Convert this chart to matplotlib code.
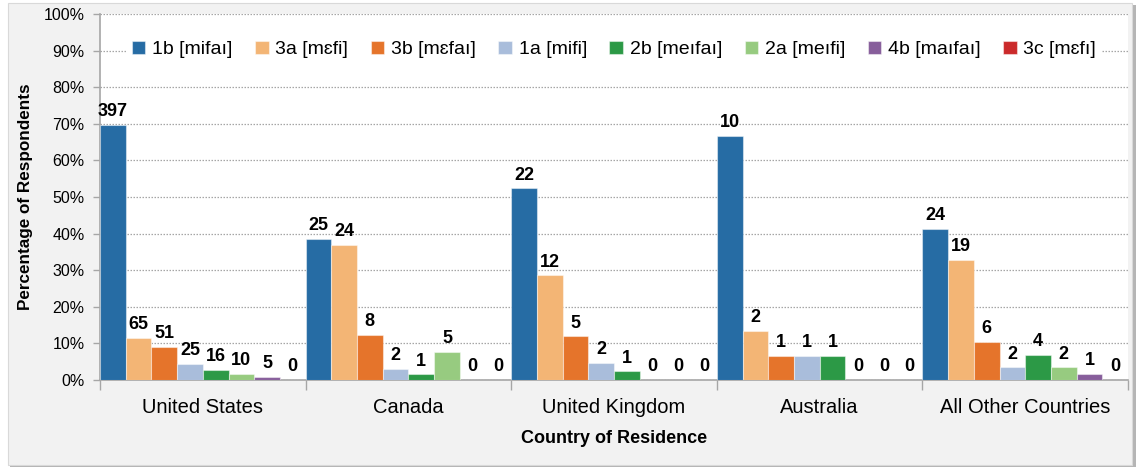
import matplotlib
matplotlib.use("Agg")
import matplotlib.pyplot as plt
from matplotlib.patches import Rectangle
import numpy as np

countries = ["United States", "Canada", "United Kingdom", "Australia", "All Other Countries"]
series = ["1b [mifaı]", "3a [mɛfi]", "3b [mɛfaı]", "1a [mifi]",
          "2b [meıfaı]", "2a [meıfi]", "4b [maıfaı]", "3c [mɛfı]"]
colors = ["#266ca4", "#f3b575", "#e5742b", "#a9bddb",
          "#2c9946", "#97cb80", "#875e9b", "#cb2a2b"]

# respondent counts per pronunciation (rows follow `series`, columns follow `countries`)
c_1b = [397, 25, 22, 10, 24]
c_3a = [65, 24, 12, 2, 19]
c_3b = [51, 8, 5, 1, 6]
c_1a = [25, 2, 2, 1, 2]
c_2b = [16, 1, 1, 1, 4]
c_2a = [10, 5, 0, 0, 2]
c_4b = [5, 0, 0, 0, 1]
c_3c = [0, 0, 0, 0, 0]

counts = np.array([c_1b, c_3a, c_3b, c_1a, c_2b, c_2a, c_4b, c_3c], dtype=float)
shares = counts / counts.sum(axis=0) * 100.0

plt.rcParams["font.family"] = ["Liberation Sans", "DejaVu Sans"]

W, H = 1143, 468
fig = plt.figure(figsize=(W / 100, H / 100), dpi=100)
fig.patch.set_facecolor("white")

# panel background with a soft drop shadow
fig.patches.append(Rectangle((10 / W, 1 - 468 / H + 1 / H), 1126 / W, 462 / H,
                             transform=fig.transFigure, facecolor="#b5b5b5",
                             edgecolor="none", zorder=-2))
fig.patches.append(Rectangle((8 / W, 1 - 465 / H), 1124 / W, 462 / H,
                             transform=fig.transFigure, facecolor="#f2f2f2",
                             edgecolor="#d9d9d9", linewidth=0.8, zorder=-1))

ax = fig.add_axes([100 / W, 1 - 380 / H, 1028 / W, 366 / H])
ax.set_zorder(1)
ax.set_facecolor("white")

n_groups = len(countries)
n_series = len(series)
bw = 1.0 / n_series
x0 = np.arange(n_groups)

for i, (name, col) in enumerate(zip(series, colors)):
    xs = x0 + i * bw + bw / 2
    ax.bar(xs, shares[i], width=bw, color=col, edgecolor=(1, 1, 1, 0.45),
           linewidth=0.8, label=name, zorder=3)
    for x, v, c in zip(xs, shares[i], counts[i]):
        ax.text(x, v + 1.3, f"{int(c)}", ha="center", va="bottom",
                fontsize=13, fontweight="bold", zorder=4)

ax.set_xlim(0, n_groups)
ax.set_ylim(0, 100)
ax.set_yticks(np.arange(0, 101, 10))
ax.set_yticklabels([f"{v}%" for v in range(0, 101, 10)], fontsize=11.5)
ax.yaxis.grid(True, linestyle=(0, (1.2, 1.2)), color="#a6a6a6", linewidth=0.9, zorder=0)
ax.set_axisbelow(True)

ax.set_xticks(np.arange(n_groups + 1))
ax.set_xticklabels([])
ax.set_xticks(x0 + 0.5, minor=True)
ax.set_xticklabels(countries, minor=True, fontsize=14.5)
ax.tick_params(axis="x", which="major", direction="out", length=7, color="#a6a6a6", width=1)
ax.tick_params(axis="x", which="minor", length=0, pad=13)
ax.tick_params(axis="y", direction="out", length=5, color="#a6a6a6", width=1, pad=6)

for s in ["top", "right"]:
    ax.spines[s].set_visible(False)
for s in ["left", "bottom"]:
    ax.spines[s].set_color("#a6a6a6")
    ax.spines[s].set_linewidth(1.2)

ax.set_ylabel("Percentage of Respondents", fontsize=12.3, fontweight="bold", labelpad=8)
ax.set_xlabel("Country of Residence", fontsize=13, fontweight="bold", labelpad=9)

leg = ax.legend(loc="center", bbox_to_anchor=(0.5, 0.903), ncol=8, frameon=True,
                fontsize=14, handlelength=0.7, handleheight=0.7, handletextpad=0.35,
                columnspacing=1.15, borderpad=0.3, fancybox=False)
leg.get_frame().set_facecolor("white")
leg.get_frame().set_edgecolor("none")
leg.get_frame().set_alpha(1.0)
leg.set_zorder(5)

fig.savefig("out.png", dpi=100, facecolor=fig.get_facecolor())
